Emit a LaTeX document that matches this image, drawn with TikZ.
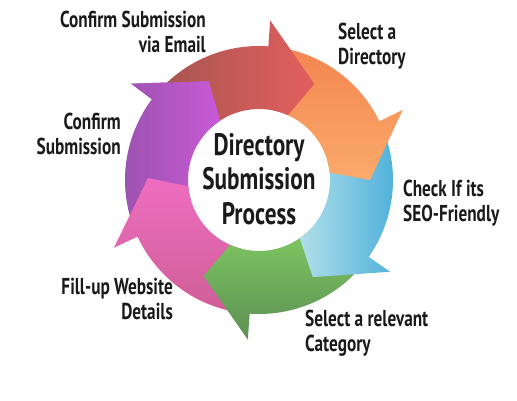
\documentclass[tikz,border=0pt]{standalone}
\usepackage{fontspec}
\setmainfont{PT Sans}[FakeStretch=0.75]
\definecolor{redL}{HTML}{A85650}
\definecolor{redR}{HTML}{E35F5E}
\definecolor{orgT}{HTML}{F38650}
\definecolor{orgB}{HTML}{FBAA6B}
\definecolor{bluL}{HTML}{B0DFE8}
\definecolor{bluR}{HTML}{4BAEDB}
\definecolor{grnT}{HTML}{80C862}
\definecolor{grnB}{HTML}{5C9054}
\definecolor{pnkT}{HTML}{EF6DC0}
\definecolor{pnkB}{HTML}{CF5F97}
\definecolor{purL}{HTML}{9A52AE}
\definecolor{purR}{HTML}{C85AD6}
\definecolor{ink}{HTML}{1A1A1A}
\def\Ri{71pt}
\def\Ro{134pt}
% curved arrow: tail angle, head angle, shading
\newcommand\cycarrow[3]{%
  \shade[#3] (#1:\Ro) arc[start angle=#1, end angle=#2, radius=\Ro]
    -- (#2:160pt) -- ({#2-26}:111pt) -- ({#2-20}:\Ri)
    arc[start angle={#2-20}, end angle=#1, radius=\Ri] -- cycle;}
\begin{document}
\begin{tikzpicture}[x=1pt,y=1pt,
  lbl/.style={font=\bfseries\fontsize{23}{25}\selectfont,text=ink,inner sep=0pt},
  ttl/.style={font=\bfseries\fontsize{31}{34.5}\selectfont,text=ink,align=center,inner sep=0pt}]
\useasboundingbox (-259,-220) rectangle (258,180);
\cycarrow{-163}{-217}{left color=purL,right color=purR}
\cycarrow{-102}{-155}{top color=pnkT,bottom color=pnkB}
\cycarrow{-43}{-94}{top color=grnT,bottom color=grnB}
\cycarrow{18}{-35}{left color=bluL,right color=bluR}
\cycarrow{78}{26}{top color=orgT,bottom color=orgB}
\cycarrow{135}{86}{left color=redL,right color=redR}
% purple head goes over the red tail
\begin{scope}
\clip (0,0) -- (100:200pt) arc[start angle=100, end angle=150, radius=200pt] -- cycle;
\cycarrow{-163}{-217}{left color=purL,right color=purR}
\end{scope}
\node[ttl] (title) at (0,1) {Directory\\Submission\\Process};
\node[lbl,align=right,anchor=north east] (email) at (-53,169) {Confirm Submission\\via Email};
\node[lbl,align=left,anchor=north west] (dir) at (79,157) {Select a\\Directory};
\node[lbl,align=left,anchor=north west] (seo) at (144,0) {Check If its\\SEO-Friendly};
\node[lbl,align=left,anchor=north west] (cat) at (46,-130) {Select a relevant\\Category};
\node[lbl,align=right,anchor=north east] (fill) at (-86,-98) {Fill-up Website\\Details};
\node[lbl,align=right,anchor=north east] (conf) at (-138,67) {Confirm\\Submission};
\end{tikzpicture}
\end{document}
